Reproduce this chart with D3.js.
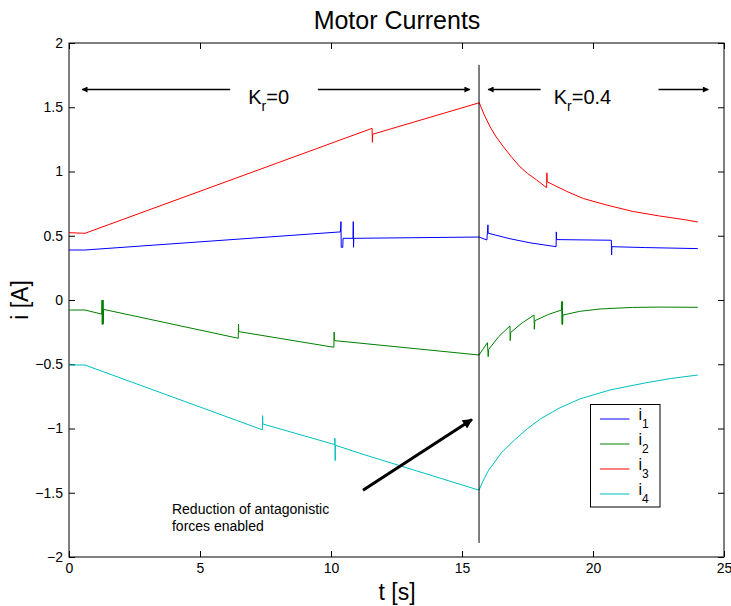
<!DOCTYPE html>
<html>
<head>
<meta charset="utf-8">
<script src="https://cdn.jsdelivr.net/npm/d3@7"></script>
<style>
  body { margin: 0; background: #fff; }
  svg text { font-family: "Liberation Sans", Arial, Helvetica, sans-serif; fill: #000; }
</style>
</head>
<body>
<svg id="chart"></svg>
<script>
const width = 731, height = 606

// series: [t (s), i (A)]
const i1 = [[0,0.389],[0.61,0.389],[10.36,0.53],[10.38,0.61],[10.39,0.41],[10.45,0.41],[10.46,0.48],[10.84,0.48],[10.85,0.61],[10.86,0.41],[10.87,0.48],
  [15.65,0.49],[15.95,0.467],[15.99,0.585],[16.0,0.52],[16.8,0.478],[17.6,0.445],[18.59,0.415],[18.6,0.53],[18.61,0.47],
  [20.7,0.465],[20.71,0.35],[20.72,0.415],[22,0.408],[24,0.40]]
const i2 = [[0,-0.078],[0.61,-0.078],[1.25,-0.11],[1.26,0.0],[1.27,-0.19],[1.28,-0.01],[1.29,-0.19],[1.30,-0.0],[1.31,-0.185],[1.32,-0.073],
  [6.46,-0.298],[6.47,-0.187],[6.48,-0.246],[10.11,-0.368],[10.12,-0.25],[10.13,-0.316],[15.65,-0.428],
  [15.97,-0.332],[16.0,-0.441],[16.02,-0.384],[16.4,-0.285],[16.83,-0.202],[16.84,-0.316],[16.86,-0.252],
  [17.3,-0.178],[17.75,-0.117],[17.76,-0.228],[17.78,-0.161],[18.3,-0.112],[18.8,-0.078],[18.81,-0.013],[18.82,-0.19],
  [18.83,-0.01],[18.84,-0.19],[18.85,-0.117],[19.5,-0.088],[20.27,-0.07],[21.5,-0.058],[22.5,-0.055],[24,-0.057]]
const i3 = [[0,0.524],[0.61,0.519],[11.57,1.336],[11.58,1.227],[11.59,1.29],[15.66,1.535],[15.85,1.44],[16.07,1.349],[16.3,1.27],[16.58,1.193],
  [16.9,1.11],[17.21,1.037],[17.5,0.985],[17.85,0.934],[18.23,0.874],[18.24,0.99],[18.25,0.92],[19.0,0.845],[19.63,0.79],[20.5,0.74],
  [21.5,0.69],[22.5,0.655],[23.5,0.625],[24,0.607]]
const i4 = [[0,-0.506],[0.61,-0.506],[7.38,-1.01],[7.39,-0.9],[7.40,-0.965],[10.14,-1.125],[10.15,-1.076],[10.16,-1.25],
  [10.17,-1.13],[11.1,-1.193],[15.65,-1.48],[15.8,-1.41],[16.0,-1.33],[16.5,-1.19],[17,-1.09],[17.5,-1.0],[18,-0.925],
  [18.74,-0.838],[19.5,-0.77],[20.65,-0.70],[22,-0.645],[23,-0.61],[24,-0.584]]

const seriesNames = ["1", "2", "3", "4"]
const seriesColors = ["#0000ff", "#008000", "#ff0000", "#00bfbf"]
const seriesData = [i1, i2, i3, i4]

const xTicks = [0, 5, 10, 15, 20, 25]
const yTicks = [-2, -1.5, -1, -0.5, 0, 0.5, 1, 1.5, 2]

// annotations (data units)
const switchT = 15.65
const arrowY = 1.638
const regionArrows = [[6.15, 0.5], [9.5, 15.3], [18.0, 16.0], [22.5, 24.4]]
const noteArrow = [[11.22, -1.48], [15.38, -0.93]]

const svg = d3.select("#chart")
  .attr("width", width)
  .attr("height", height)

const x = d3.scaleLinear().domain([0, 25]).range([69, 724])
const y = d3.scaleLinear().domain([-2, 2]).range([557, 43])

const defs = svg.append("defs")
defs.append("marker")
  .attr("id", "head")
  .attr("viewBox", "0 0 10 10")
  .attr("refX", 9).attr("refY", 5)
  .attr("markerWidth", 10).attr("markerHeight", 6)
  .attr("markerUnits", "userSpaceOnUse")
  .attr("orient", "auto")
  .append("path").attr("d", "M0,0L10,5L0,10z").attr("fill", "#000")

defs.append("marker")
  .attr("id", "headBig")
  .attr("viewBox", "0 0 10 10")
  .attr("refX", 9).attr("refY", 5)
  .attr("markerWidth", 14).attr("markerHeight", 10)
  .attr("markerUnits", "userSpaceOnUse")
  .attr("orient", "auto")
  .append("path").attr("d", "M0,0L10,5L0,10z").attr("fill", "#000")

// axes, ticks pointing inward on all sides
const fmt = d3.format("~g")
svg.append("g").attr("transform", `translate(0,${y(-2)})`)
  .call(d3.axisBottom(x).tickValues(xTicks).tickFormat(fmt).tickSizeInner(-6).tickSizeOuter(0).tickPadding(6))
svg.append("g").attr("transform", `translate(0,${y(2)})`)
  .call(d3.axisTop(x).tickValues(xTicks).tickFormat("").tickSizeInner(-6).tickSizeOuter(0))
svg.append("g").attr("transform", `translate(${x(0)},0)`)
  .call(d3.axisLeft(y).tickValues(yTicks).tickFormat(fmt).tickSizeInner(-6).tickSizeOuter(0).tickPadding(6))
svg.append("g").attr("transform", `translate(${x(25)},0)`)
  .call(d3.axisRight(y).tickValues(yTicks).tickFormat("").tickSizeInner(-6).tickSizeOuter(0))
svg.selectAll(".tick text").attr("font-size", 14).attr("font-family", null)
svg.selectAll(".domain").remove()
svg.selectAll(".tick line").attr("stroke", "#000")

svg.append("rect")
  .attr("x", x(0)).attr("y", y(2))
  .attr("width", x(25) - x(0)).attr("height", y(-2) - y(2))
  .attr("fill", "none").attr("stroke", "#000").attr("stroke-width", 1)

// series
const line = d3.line().x(d => x(d[0])).y(d => y(d[1]))
svg.append("g").selectAll("path")
  .data(seriesData)
  .join("path")
    .attr("d", line)
    .attr("fill", "none")
    .attr("stroke", (d, k) => seriesColors[k])
    .attr("stroke-width", 1)

// switch line
svg.append("line")
  .attr("x1", x(switchT)).attr("x2", x(switchT))
  .attr("y1", y(1.83)).attr("y2", y(-1.89))
  .attr("stroke", "#000").attr("stroke-width", 1)

// region arrows
svg.append("g").selectAll("line")
  .data(regionArrows)
  .join("line")
    .attr("x1", d => x(d[0])).attr("x2", d => x(d[1]))
    .attr("y1", y(arrowY)).attr("y2", y(arrowY))
    .attr("stroke", "#000").attr("stroke-width", 1.3)
    .attr("marker-end", "url(#head)")

function kLabel(t, sub, rest) {
  const txt = svg.append("text").attr("x", x(t)).attr("y", y(arrowY) + 14).attr("font-size", 20)
  txt.append("tspan").text("K")
  txt.append("tspan").attr("font-size", 14).attr("dy", 7).text(sub)
  txt.append("tspan").attr("dy", -7).text(rest)
}
kLabel(6.84, "r", "=0")
kLabel(18.5, "r", "=0.4")

// note arrow
svg.append("line")
  .attr("x1", x(noteArrow[0][0])).attr("y1", y(noteArrow[0][1]))
  .attr("x2", x(noteArrow[1][0])).attr("y2", y(noteArrow[1][1]))
  .attr("stroke", "#000").attr("stroke-width", 3)
  .attr("marker-end", "url(#headBig)")

const note = svg.append("text").attr("font-size", 14)
note.append("tspan").attr("x", x(3.93)).attr("y", 514).text("Reduction of antagonistic")
note.append("tspan").attr("x", x(3.93)).attr("y", 531).text("forces enabled")

// legend
const lg = svg.append("g").attr("transform", "translate(590.5,404.5)")
lg.append("rect").attr("width", 69.5).attr("height", 102.5)
  .attr("fill", "#fff").attr("stroke", "#000").attr("stroke-width", 1)
const item = lg.selectAll("g.item")
  .data(seriesNames)
  .join("g").attr("class", "item")
  .attr("transform", (d, k) => `translate(0,${14.5 + k * 25})`)
item.append("line").attr("x1", 9.5).attr("x2", 39)
  .attr("stroke", (d, k) => seriesColors[k]).attr("stroke-width", 1)
item.append("text").attr("x", 48).attr("y", 1).attr("font-size", 16)
  .call(t => t.append("tspan").text("i"))
  .call(t => t.append("tspan").attr("font-size", 12).attr("dy", 8).text(d => d))

// title and labels
svg.append("text").attr("x", 397).attr("y", 29).attr("text-anchor", "middle")
  .attr("font-size", 25).text("Motor Currents")
svg.append("text").attr("x", 397).attr("y", 600).attr("text-anchor", "middle")
  .attr("font-size", 23).text("t [s]")
svg.append("text").attr("transform", "translate(28,300) rotate(-90)").attr("text-anchor", "middle")
  .attr("font-size", 23).text("i [A]")
</script>
</body>
</html>
